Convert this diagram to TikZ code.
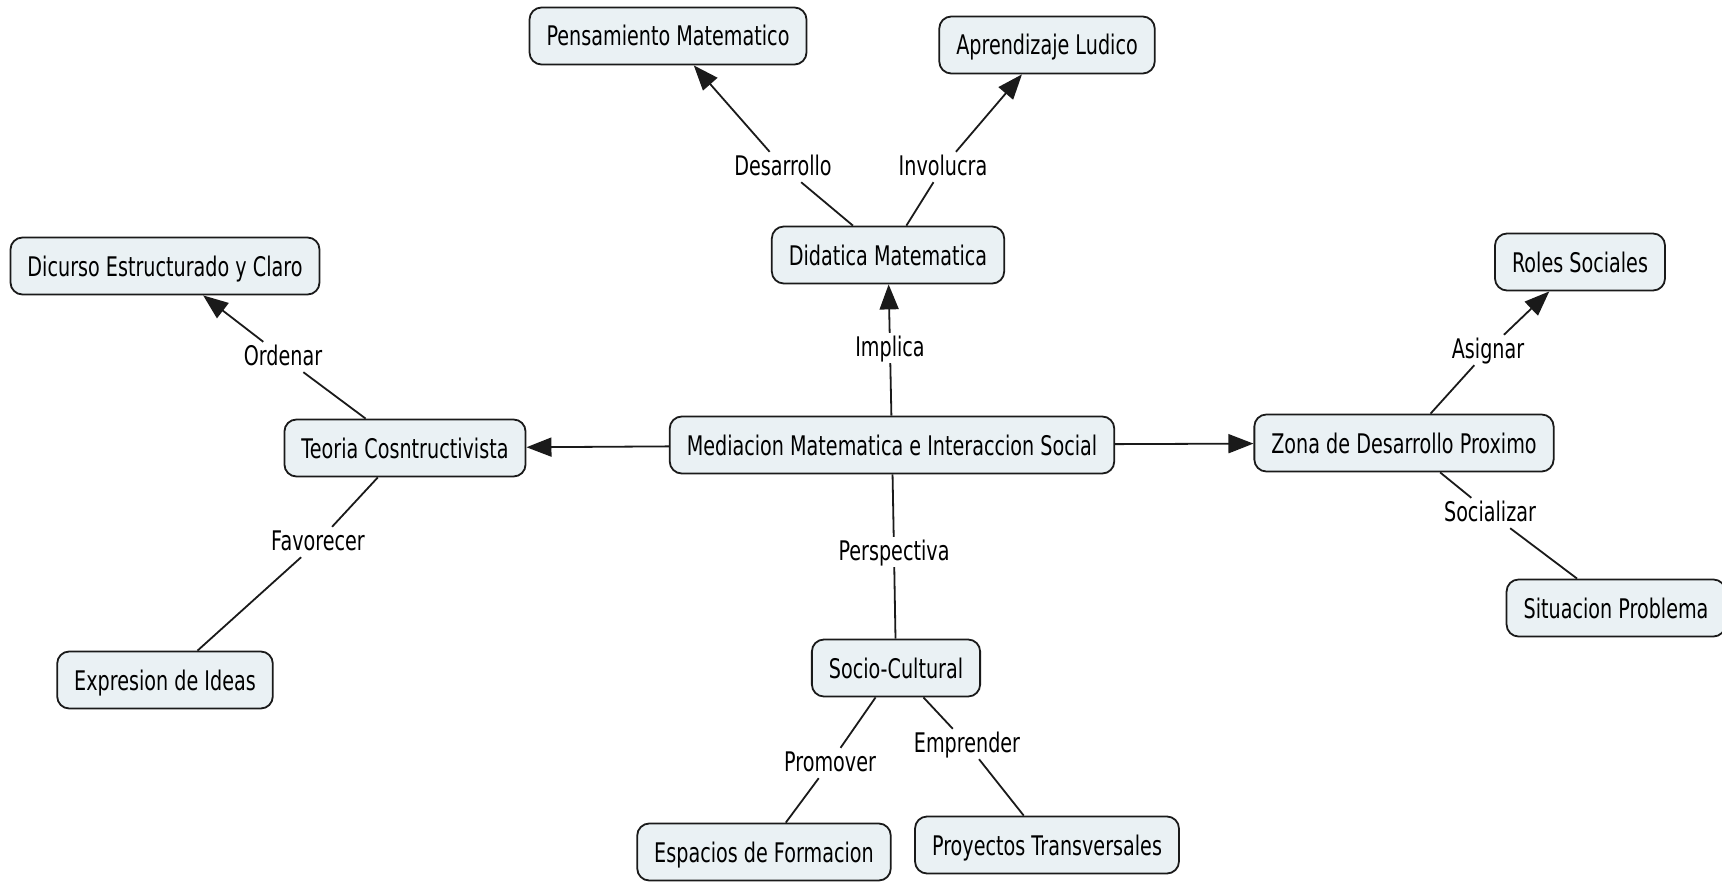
\documentclass[tikz,border=0pt]{standalone}
\usepackage{fontspec}
\setmainfont{DejaVu Sans}[FakeStretch=0.71]
\usetikzlibrary{arrows.meta}
\definecolor{conceptfill}{HTML}{EAF1F4}
\definecolor{inkline}{HTML}{1A1A1A}
\begin{document}
\begin{tikzpicture}[x=1pt,y=-1pt,
  concept/.style={draw=inkline, line width=1.8pt, fill=conceptfill, rounded corners=12pt,
    minimum height=57pt, inner xsep=17pt, font=\fontsize{27}{32}\selectfont,
    text height=20pt, text depth=0pt},
  linkword/.style={inner sep=3pt, font=\fontsize{27}{32}\selectfont,
    text height=20pt, text depth=4pt},
  link/.style={draw=inkline, line width=1.8pt},
  linkarrow/.style={link, -{Triangle[length=25pt,width=19pt]}}
]
\useasboundingbox (0,0) rectangle (1722,883);

% concepts
\node[concept] (mi) at (892,445) {Mediacion Matematica e Interaccion Social};
\node[concept] (dm) at (888,255) {Didatica Matematica};
\node[concept] (pm) at (668,36) {Pensamiento Matematico};
\node[concept] (al) at (1047,45) {Aprendizaje Ludico};
\node[concept] (tc) at (405,448) {Teoria Cosntructivista};
\node[concept] (de) at (165,266) {Dicurso Estructurado y Claro};
\node[concept] (ei) at (165,680) {Expresion de Ideas};
\node[concept] (zd) at (1404,443) {Zona de Desarrollo Proximo};
\node[concept] (rs) at (1580,262) {Roles Sociales};
\node[concept] (sp) at (1616,608) {Situacion Problema};
\node[concept] (sc) at (896,668) {Socio-Cultural};
\node[concept] (ef) at (764,852) {Espacios de Formacion};
\node[concept] (pt) at (1047,845) {Proyectos Transversales};

% linking phrases
\node[linkword] (l1) at (783,167) {Desarrollo};
\node[linkword] (l2) at (943,167) {Involucra};
\node[linkword] (l3) at (890,348) {Implica};
\node[linkword] (l4) at (283,357) {Ordenar};
\node[linkword] (l5) at (318,542) {Favorecer};
\node[linkword] (l6) at (894,552) {Perspectiva};
\node[linkword] (l7) at (1488,350) {Asignar};
\node[linkword] (l8) at (1490,513) {Socializar};
\node[linkword] (l9) at (830,763) {Promover};
\node[linkword] (l10) at (967,744) {Emprender};

% connections
\draw[linkarrow] (mi) -- (tc);
\draw[linkarrow] (mi) -- (zd);

\draw[link] (mi) -- (l3);
\draw[linkarrow] (l3) -- (dm);
\draw[link] (dm) -- (l1);
\draw[linkarrow] (l1) -- (pm);
\draw[link] (dm) -- (l2);
\draw[linkarrow] (l2) -- (al);

\draw[link] (tc) -- (l4);
\draw[linkarrow] (l4) -- (de);
\draw[link] (tc) -- (l5);
\draw[link] (l5) -- (ei);

\draw[link] (zd) -- (l7);
\draw[linkarrow] (l7) -- (rs);
\draw[link] (zd) -- (l8);
\draw[link] (l8) -- (sp);

\draw[link] (mi) -- (l6);
\draw[link] (l6) -- (sc);
\draw[link] (sc) -- (l9);
\draw[link] (l9) -- (ef);
\draw[link] (sc) -- (l10);
\draw[link] (l10) -- (pt);
\end{tikzpicture}
\end{document}
